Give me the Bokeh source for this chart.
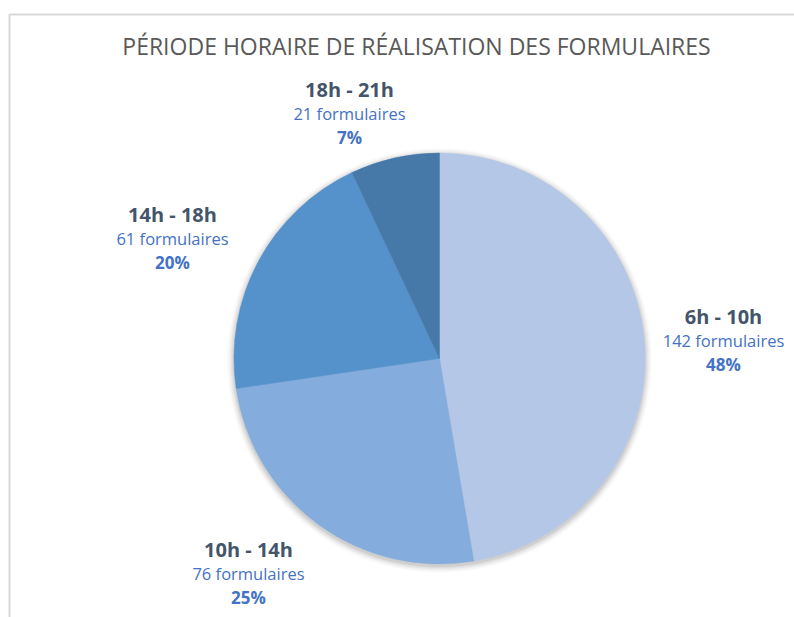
import math
from bokeh.plotting import figure
from bokeh.models import ColumnDataSource, Range1d
from bokeh.core.properties import value
from bokeh.embed import file_html
from bokeh.resources import INLINE

# ---- data ----
categories = ["6h - 10h", "10h - 14h", "14h - 18h", "18h - 21h"]
counts = [142, 76, 61, 21]
count_labels = ["142 formulaires", "76 formulaires", "61 formulaires", "21 formulaires"]
pct_labels = ["48%", "25%", "20%", "7%"]
title_text = "PÉRIODE HORAIRE DE RÉALISATION DES FORMULAIRES"

# ---- style / layout ----
colors = ["#B4C7E7", "#84ACDC", "#5592CB", "#4678A8"]
W, H = 794, 617
cx, cy, R = 439, 259, 205.5
label_x = [723, 248, 172, 349]
label_y = [301, 68, 403, 528]
line_gap = 24

total = sum(counts)
starts, ends = [], []
acc = 0.0
for c in counts:
    a0 = math.pi / 2 - 2 * math.pi * acc / total
    acc += c
    a1 = math.pi / 2 - 2 * math.pi * acc / total
    starts.append(a0)
    ends.append(a1)

src = ColumnDataSource(dict(cat=categories, cnt=counts, start=starts, end=ends, color=colors,
                            lx=label_x, ly=label_y,
                            ly2=[y - line_gap for y in label_y],
                            ly3=[y - 2 * line_gap for y in label_y],
                            clab=count_labels, plab=pct_labels))

p = figure(width=W, height=H, x_range=Range1d(0, W), y_range=Range1d(0, H),
           output_backend="svg", toolbar_location=None, min_border=0)
p.axis.visible = False
p.grid.visible = False
p.outline_line_color = None
p.background_fill_color = "white"
p.border_fill_color = "white"

# chart frame (top and left edges visible)
p.line([9, 9, W + 5], [-5, 603, 603], line_color="#D9D9D9", line_width=2)

# soft shadow
for i, al in enumerate([0.05, 0.04, 0.035, 0.03, 0.02, 0.015]):
    p.circle(x=[cx], y=[cy - 2], radius=R + 1 + i * 1.2, fill_color="#000000",
             fill_alpha=al, line_color=None)

p.wedge(x=cx, y=cy, radius=R, start_angle="end", end_angle="start",
        fill_color="color", line_color="color", line_width=0.5, source=src)

p.text(x=[416], y=[572], text=[title_text], text_align="center", text_baseline="middle",
       text_font=value("Open Sans"), text_font_size="23px", text_color="#595959")

p.text(x="lx", y="ly", text="cat", source=src, text_align="center", text_baseline="middle",
       text_font=value("Open Sans"), text_font_style="bold", text_font_size="20px",
       text_color="#44546A")
p.text(x="lx", y="ly2", text="clab", source=src, text_align="center", text_baseline="middle",
       text_font=value("Open Sans"), text_font_size="16.5px", text_color="#4472C4")
p.text(x="lx", y="ly3", text="plab", source=src, text_align="center", text_baseline="middle",
       text_font=value("Open Sans"), text_font_style="bold", text_font_size="17px",
       text_color="#4472C4")

open("out.html", "w").write(file_html(p, INLINE))
